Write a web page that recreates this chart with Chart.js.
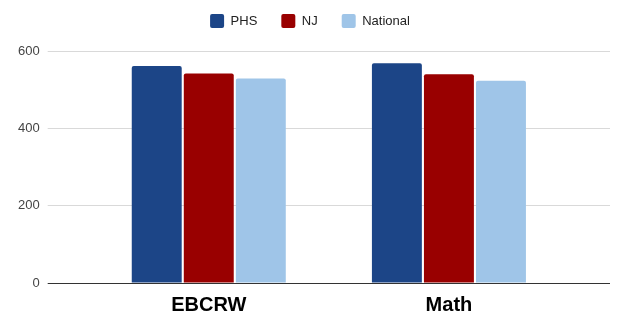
<!DOCTYPE html>
<html>
<head>
<meta charset="utf-8">
<script src="https://cdn.jsdelivr.net/npm/chart.js@4"></script>
<style>
  html, body { margin: 0; padding: 0; background: #fff; }
  #wrap { width: 620px; height: 317px; }
</style>
</head>
<body>
<div id="wrap"><canvas id="chart"></canvas></div>
<script>
// -------------------- Data --------------------
const categories = ['EBCRW', 'Math'];
const phsScores = [561, 568];
const njScores = [542, 540];
const nationalScores = [529, 523];
const yTicks = [0, 200, 400, 600];

const FONT = "'Liberation Sans', Arial, sans-serif";

// grid line colour, darker for the zero line
const gridColor = (ctx) => (ctx.tick && ctx.tick.value === 0 ? '#333333' : '#d9d9d9');

// legend block gets a fixed height so the plot starts lower
const legendHeight = {
    id: 'legendHeight',
    beforeInit(chart) {
        const fit = chart.legend.fit;
        chart.legend.fit = function () {
            fit.call(this);
            this.height = 61;
        };
    }
};

const ctx = document.getElementById('chart');

new Chart(ctx, {
    type: 'bar',
    data: {
        labels: categories,
        datasets: [
            { label: 'PHS', data: phsScores, backgroundColor: '#1c4587' },
            { label: 'NJ', data: njScores, backgroundColor: '#990000' },
            { label: 'National', data: nationalScores, backgroundColor: '#9fc5e8' }
        ]
    },
    plugins: [legendHeight],
    options: {
        responsive: true,
        maintainAspectRatio: false,
        animation: false,
        layout: { padding: { left: 10, right: 10, top: -10, bottom: 0 } },
        datasets: {
            bar: {
                categoryPercentage: 0.65,
                barPercentage: 0.96,
                borderRadius: { topLeft: 2, topRight: 2 }
            }
        },
        plugins: {
            legend: {
                position: 'top',
                labels: {
                    boxWidth: 14,
                    boxHeight: 14,
                    padding: 24,
                    color: '#222',
                    font: { family: FONT, size: 13 },
                    useBorderRadius: true,
                    borderRadius: 2
                }
            },
            tooltip: { enabled: false }
        },
        scales: {
            x: {
                grid: { display: false },
                border: { display: false },
                afterFit: (scale) => { scale.height = 34; },
                ticks: {
                    padding: 2,
                    color: '#000',
                    font: { family: FONT, size: 20, weight: 'bold' }
                }
            },
            y: {
                min: 0,
                max: 600,
                afterBuildTicks: (scale) => { scale.ticks = yTicks.map(v => ({ value: v })); },
                border: { display: false },
                grid: { color: gridColor, tickColor: gridColor, tickLength: 41 },
                ticks: {
                    padding: 8,
                    color: '#444',
                    font: { family: FONT, size: 13 }
                }
            },
            // right side only extends the grid lines past the bars
            yRight: {
                position: 'right',
                min: 0,
                max: 600,
                afterBuildTicks: (scale) => { scale.ticks = yTicks.map(v => ({ value: v })); },
                border: { display: false },
                grid: { drawOnChartArea: false, color: gridColor, tickColor: gridColor, tickLength: 41 },
                ticks: { display: false }
            }
        }
    }
});
</script>
</body>
</html>
